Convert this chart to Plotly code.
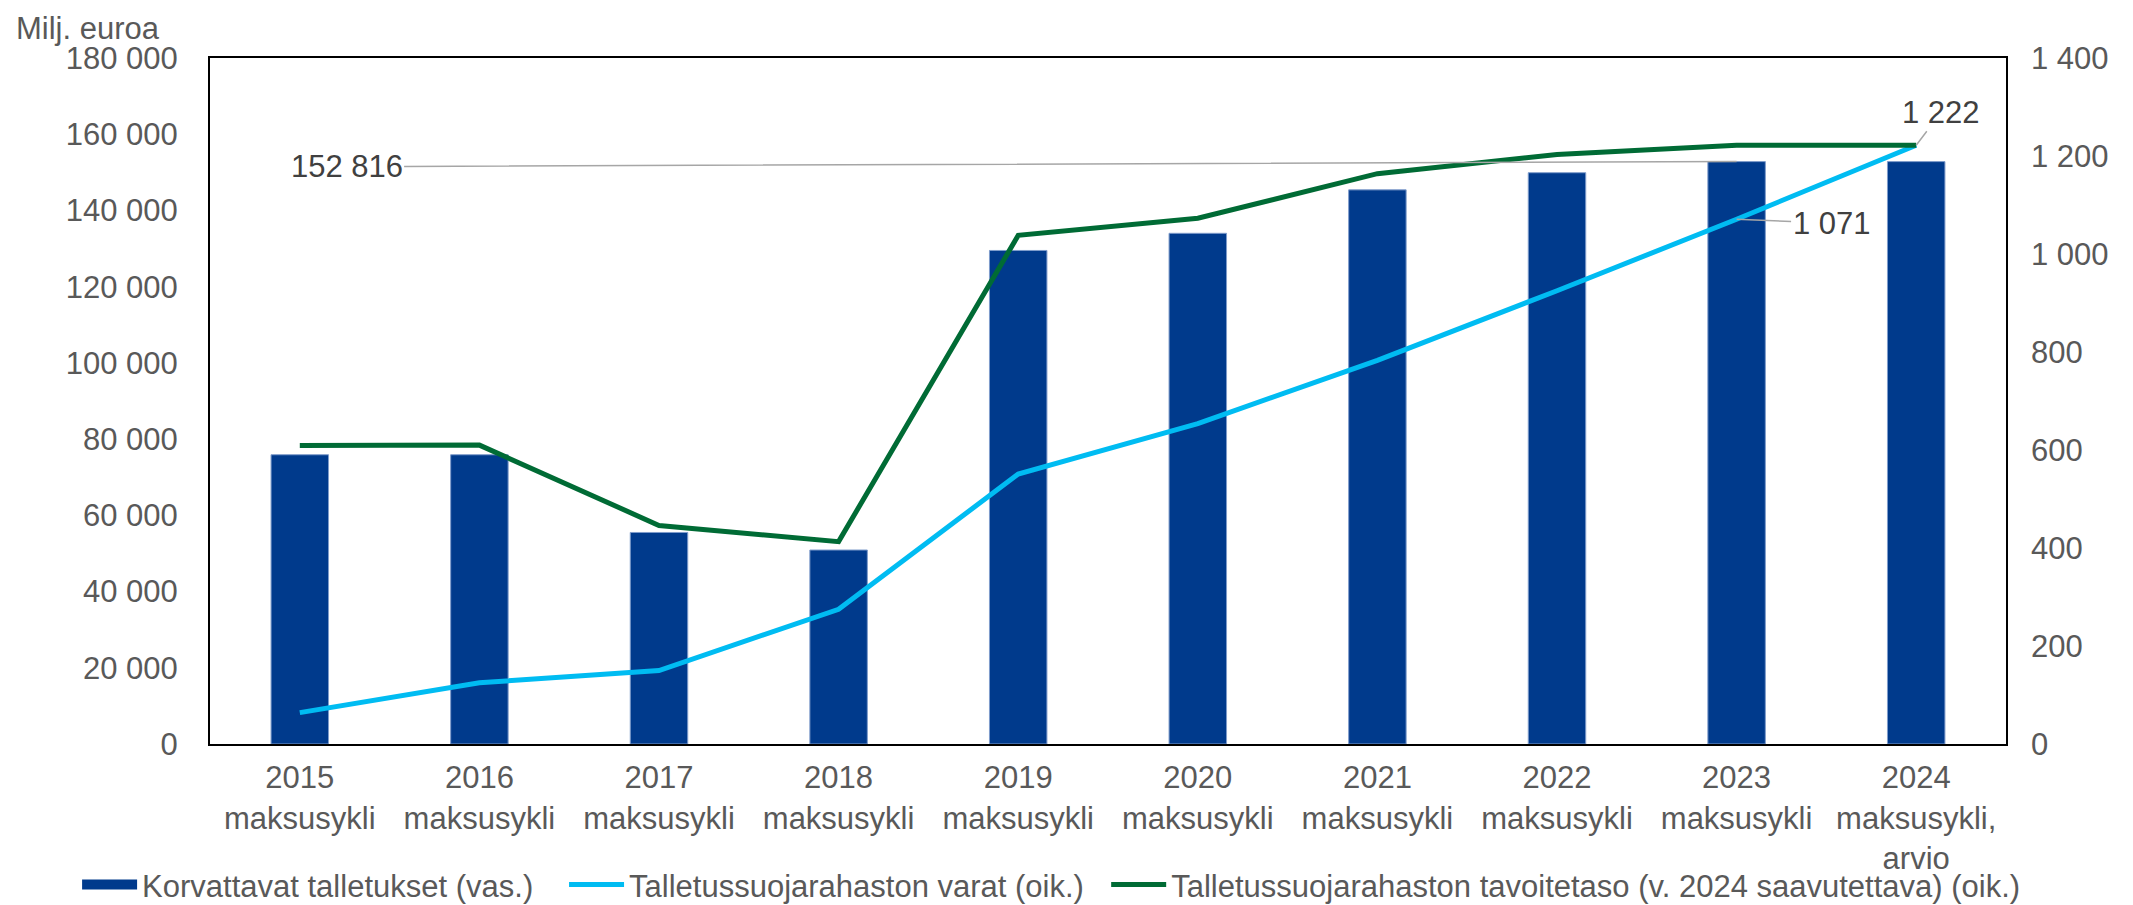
import plotly.graph_objects as go

categories = [
    "2015<br>maksusykli", "2016<br>maksusykli", "2017<br>maksusykli",
    "2018<br>maksusykli", "2019<br>maksusykli", "2020<br>maksusykli",
    "2021<br>maksusykli", "2022<br>maksusykli", "2023<br>maksusykli",
    "2024<br>maksusykli,<br>arvio",
]
deposits = [75900, 75900, 55500, 50900, 129500, 134000, 145400, 149900, 152816, 152816]
fund_assets = [64, 125, 150, 275, 551, 654, 783, 925, 1071, 1222]
target_level = [609, 610, 446, 413, 1038, 1073, 1164, 1203, 1222, 1222]

names = [
    "Korvattavat talletukset (vas.)",
    "Talletussuojarahaston varat (oik.)",
    "Talletussuojarahaston tavoitetaso (v. 2024 saavutettava) (oik.)",
]

FONT = "Liberation Sans, Arial, sans-serif"
TICK_COLOR = "#595959"
ANN_COLOR = "#404040"
LEADER = "#A6A6A6"
BAR_COLOR = "#003A8C"
NB = "\u00a0"

fig = go.Figure()
fig.add_trace(go.Bar(
    x=categories, y=deposits, name=names[0],
    marker=dict(color=BAR_COLOR, line=dict(color="#7F9CCB", width=1)),
    width=0.32, yaxis="y", showlegend=False, legendgroup="dep",
))
# legend proxy so the legend key is a wide rectangle like the original
fig.add_trace(go.Scatter(
    x=[None], y=[None], name=names[0] + NB * 3, mode="lines",
    line=dict(color=BAR_COLOR, width=18), legendgroup="dep",
    hoverinfo="skip",
))
fig.add_trace(go.Scatter(
    x=categories, y=fund_assets, name=names[1] + NB * 2, mode="lines",
    line=dict(color="#00BCF2", width=5), yaxis="y2",
))
fig.add_trace(go.Scatter(
    x=categories, y=target_level, name=names[2], mode="lines",
    line=dict(color="#006B35", width=5), yaxis="y2",
))

ann_font = dict(family=FONT, size=31, color=ANN_COLOR)
fig.add_annotation(
    x=categories[8], y=deposits[8], xref="x", yref="y",
    text="152 816", showarrow=True, arrowhead=0, arrowwidth=1.5,
    arrowcolor=LEADER, axref="pixel", ayref="pixel", ax=-1390, ay=5,
    standoff=0, font=ann_font,
)
fig.add_annotation(
    x=categories[8], y=fund_assets[8], xref="x", yref="y2",
    text="1 071", showarrow=True, arrowhead=0, arrowwidth=1.5,
    arrowcolor=LEADER, axref="pixel", ayref="pixel", ax=95, ay=4,
    standoff=0, font=ann_font,
)
fig.add_annotation(
    x=categories[9], y=fund_assets[9], xref="x", yref="y2",
    text="1 222", showarrow=True, arrowhead=0, arrowwidth=1.5,
    arrowcolor=LEADER, axref="pixel", ayref="pixel", ax=25, ay=-33,
    standoff=0, font=ann_font,
)
fig.add_annotation(
    x=-0.1094, y=1.0423, xref="paper", yref="paper",
    xanchor="left", yanchor="middle", showarrow=False,
    text="Milj. euroa", font=dict(family=FONT, size=31, color=TICK_COLOR),
)

fig.update_layout(
    width=2117, height=905,
    margin=dict(l=202, r=119, t=50, b=169, autoexpand=False),
    paper_bgcolor="white", plot_bgcolor="white",
    separators=". ",
    font=dict(family=FONT, size=31, color=TICK_COLOR),
    showlegend=True,
    legend=dict(
        orientation="h", x=-0.0740, y=-0.2055, xanchor="left", yanchor="middle",
        font=dict(family=FONT, size=31, color=TICK_COLOR),
        bgcolor="rgba(0,0,0,0)", itemwidth=55, tracegroupgap=0,
    ),
    xaxis=dict(
        type="category", showline=True, linecolor="black", linewidth=2,
        mirror=True, ticks="", showgrid=False, ticklabelstandoff=5,
        tickfont=dict(family=FONT, size=31, color=TICK_COLOR),
    ),
    yaxis=dict(
        range=[0, 180000], dtick=20000, tickformat=",d", showgrid=False,
        showline=True, linecolor="black", linewidth=2, mirror=True,
        ticks="", zeroline=False, ticklabelstandoff=24,
        tickfont=dict(family=FONT, size=31, color=TICK_COLOR),
    ),
    yaxis2=dict(
        range=[0, 1400], dtick=200, tickformat=",d", showgrid=False,
        overlaying="y", side="right", showline=False, ticks="",
        zeroline=False, ticklabelstandoff=24,
        tickfont=dict(family=FONT, size=31, color=TICK_COLOR),
    ),
)

fig.write_html("out.html")
